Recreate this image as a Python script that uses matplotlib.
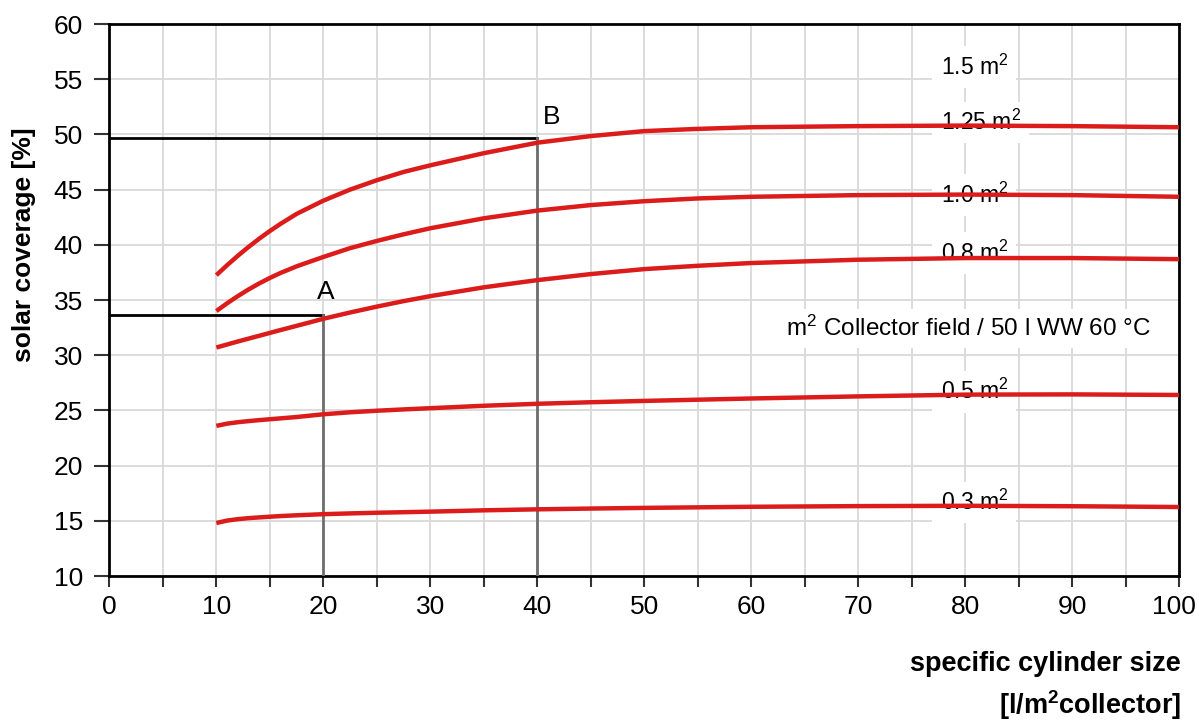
import matplotlib
matplotlib.use("Agg")
import matplotlib.pyplot as plt
from matplotlib.transforms import ScaledTranslation

plt.rcParams["font.family"] = ["Liberation Sans", "DejaVu Sans"]
plt.rcParams["mathtext.fontset"] = "custom"
plt.rcParams["mathtext.rm"] = "Liberation Sans"
plt.rcParams["mathtext.it"] = "Liberation Sans:italic"
plt.rcParams["mathtext.bf"] = "Liberation Sans:bold"

# specific cylinder size [l/m² collector]
x_pts = [10, 11, 12, 13, 14, 15, 16, 17.5, 20, 22.5, 25, 27.5, 30, 35, 40,
         45, 50, 55, 60, 70, 80, 90, 100]

# solar coverage [%] per collector area per 50 l hot water
cov_125 = [37.25, 38.15, 39.0, 39.8, 40.55, 41.25, 41.9, 42.8, 44.0, 45.0, 45.85,
           46.6, 47.2, 48.3, 49.25, 49.85, 50.3, 50.5, 50.65, 50.75, 50.8, 50.75, 50.65]
cov_100 = [34.0, 34.7, 35.35, 35.95, 36.5, 37.0, 37.45, 38.05, 38.9, 39.7, 40.35,
           40.95, 41.5, 42.4, 43.1, 43.6, 43.95, 44.2, 44.35, 44.5, 44.55, 44.5, 44.35]
cov_080 = [30.7, 30.97, 31.24, 31.5, 31.76, 32.02, 32.28, 32.66, 33.3, 33.87, 34.4,
           34.9, 35.35, 36.15, 36.8, 37.35, 37.8, 38.1, 38.35, 38.65, 38.8, 38.8, 38.7]
cov_050 = [23.6, 23.8, 23.93, 24.03, 24.12, 24.2, 24.28, 24.4, 24.65, 24.83, 24.97,
           25.09, 25.2, 25.42, 25.6, 25.74, 25.86, 25.97, 26.08, 26.27, 26.43, 26.45, 26.4]
cov_030 = [14.8, 15.02, 15.15, 15.24, 15.31, 15.37, 15.43, 15.5, 15.6, 15.67, 15.73,
           15.78, 15.83, 15.95, 16.04, 16.11, 16.17, 16.22, 16.27, 16.33, 16.36, 16.32, 16.25]
curves = [cov_125, cov_100, cov_080, cov_050, cov_030]

# curve labels (text, baseline value)
curve_labels = ["1.5 m$^{2}$", "1.25 m$^{2}$", "1.0 m$^{2}$", "0.8 m$^{2}$", "0.5 m$^{2}$", "0.3 m$^{2}$"]
label_y = [55.4, 50.4, 43.8, 38.55, 26.0, 15.98]
label_x = 77.7

# reading examples A and B
point_A = (20, 33.6)
point_B = (40, 49.7)

x_ticks = list(range(0, 101, 10))
x_minor = list(range(0, 101, 5))
y_ticks = list(range(10, 61, 5))

fig = plt.figure(figsize=(11.99, 7.21), dpi=100)
ax = fig.add_axes([0.0912, 0.2011, 0.8924, 0.7656])

ax.set_xlim(0, 100)
ax.set_ylim(10, 60)

ax.set_xticks(x_ticks)
ax.set_xticks(x_minor, minor=True)
ax.set_yticks(y_ticks)
ax.grid(True, which="both", color="#d9d9d9", linewidth=1.3, zorder=0)
ax.set_axisbelow(True)

ax.tick_params(axis="x", which="both", direction="out", length=8, width=1.5,
               color="#333333", labelsize=19, pad=6)
ax.tick_params(axis="y", direction="out", length=11, width=1.5,
               color="#333333", labelsize=19, pad=8)
for sp in ax.spines.values():
    sp.set_color("black")
    sp.set_linewidth(2)

# keep the last x tick label inside the figure edge
last_tick = ax.xaxis.get_major_ticks()[-1]
last_tick.label1.set_transform(last_tick.label1.get_transform()
                               + ScaledTranslation(-4 / 72, 0, fig.dpi_scale_trans))

red = "#dc1b1b"
for ys in curves:
    ax.plot(x_pts, ys, color=red, linewidth=3.2, solid_capstyle="butt",
            solid_joinstyle="round", zorder=4)

for txt, yb in zip(curve_labels, label_y):
    ax.text(label_x, yb, txt, fontsize=16.5, ha="left", va="baseline", zorder=2,
            bbox=dict(facecolor="white", edgecolor="none", pad=6))

ax.text(63.2, 31.74, "m$^{2}$ Collector field / 50 l WW 60 °C", fontsize=17.5,
        ha="left", va="baseline", zorder=2,
        bbox=dict(facecolor="white", edgecolor="none", pad=5))

# guide lines for the reading examples
for (px, py), name in [(point_A, "A"), (point_B, "B")]:
    ax.plot([0, px], [py, py], color="black", linewidth=2, zorder=3)
    ax.plot([px, px], [10, py], color="#6e6e6e", linewidth=2, zorder=3)
ax.text(19.4, 35.06, "A", fontsize=19, ha="left", va="baseline", zorder=5)
ax.text(40.5, 50.9, "B", fontsize=19, ha="left", va="baseline", zorder=5)

fig.text(24 / 1199, 1 - 245 / 721, "solar coverage [%]", rotation=90,
         fontsize=19, fontweight="bold", ha="center", va="center")
fig.text(1181 / 1199, 1 - 664 / 721, "specific cylinder size",
         fontsize=19.5, fontweight="bold", ha="right", va="center")
fig.text(1181 / 1199, 1 - 705 / 721, r"[l/m$^{\mathbf{2}}$collector]",
         fontsize=19.5, fontweight="bold", ha="right", va="center")

fig.savefig("out.png", dpi=100, facecolor="white")
